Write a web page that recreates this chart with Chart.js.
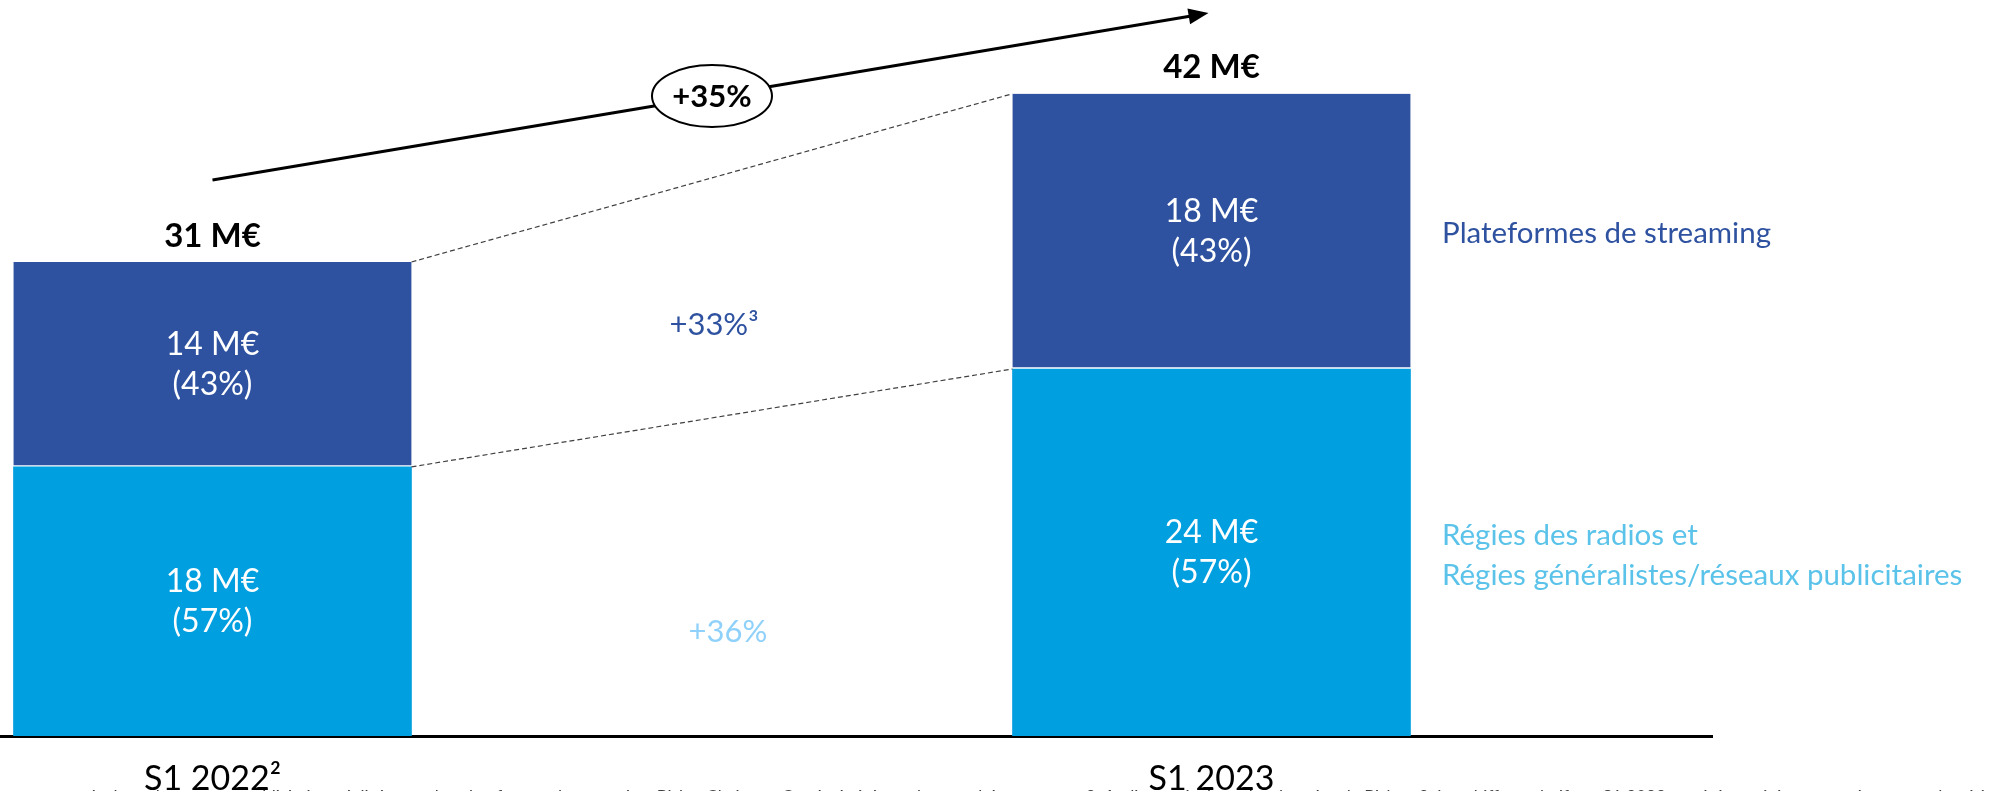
<!DOCTYPE html>
<html>
<head>
<meta charset="utf-8">
<script src="https://cdn.jsdelivr.net/npm/chart.js@4"></script>
<style>
  html, body { margin: 0; padding: 0; background: #fff; }
  #wrap { width: 1996px; height: 791px; position: relative; overflow: hidden; }
</style>
</head>
<body>
<div id="wrap"><canvas id="chart"></canvas></div>
<script>
// categories and values (M€)
const categories = ['S1 2022²', 'S1 2023'];
const radioValues = [17.6, 24.0];
const streamingValues = [13.4, 18.0];

// texts shown on the bars
const radioLabels = ['18 M€', '24 M€'];
const radioShares = ['(57%)', '(57%)'];
const streamingLabels = ['14 M€', '18 M€'];
const streamingShares = ['(43%)', '(43%)'];
const totalLabels = ['31 M€', '42 M€'];

const totalGrowth = '+35%';
const streamingGrowth = '+33%³';
const radioGrowth = '+36%';

const seriesNames = ['Régies des radios et', 'Régies généralistes/réseaux publicitaires'];
const streamingName = 'Plateformes de streaming';

const footnote = '1. Les montants incluent les revenus publicitaires réalisés avec les plateformes de streaming, Bisho, Chaine et Carré générés sur les marchés couverts ; 2. Audiences incluant les données de Bisho ; 3. Les chiffres relatifs au S1 2022 ont été retraités pour tenir compte du périmètre';

const DARK = '#2E52A0';
const LIGHT = '#009FE0';
const FONT = 'Lato, "Open Sans", sans-serif';

function txt(ctx, s, x, y, size, color, weight, align) {
  ctx.font = (weight || 'normal') + ' ' + size + 'px ' + FONT;
  ctx.fillStyle = color;
  ctx.textAlign = align || 'center';
  ctx.textBaseline = 'middle';
  ctx.fillText(s, x, y);
}

const annotations = {
  id: 'annotations',
  afterDatasetsDraw(chart) {
    const ctx = chart.ctx;
    const radio = chart.getDatasetMeta(0).data;
    const stream = chart.getDatasetMeta(1).data;
    ctx.save();

    // labels inside the segments
    radio.forEach((bar, i) => {
      const cy = (bar.y + bar.base) / 2;
      txt(ctx, radioLabels[i], bar.x, cy - 20, 32, '#fff');
      txt(ctx, radioShares[i], bar.x, cy + 20, 32, '#fff');
    });
    stream.forEach((bar, i) => {
      const cy = (bar.y + bar.base) / 2;
      txt(ctx, streamingLabels[i], bar.x, cy - 20, 32, '#fff');
      txt(ctx, streamingShares[i], bar.x, cy + 20, 32, '#fff');
      txt(ctx, totalLabels[i], bar.x, bar.y - 26, 33, '#000', 'bold');
    });

    // dashed connectors between bar corners
    const a = stream[0], b = stream[1];
    const ra = radio[0], rb = radio[1];
    ctx.strokeStyle = '#404040';
    ctx.lineWidth = 1.2;
    ctx.setLineDash([5, 3]);
    ctx.beginPath();
    ctx.moveTo(a.x + a.width / 2, a.y);
    ctx.lineTo(b.x - b.width / 2, b.y);
    ctx.moveTo(ra.x + ra.width / 2, ra.y);
    ctx.lineTo(rb.x - rb.width / 2, rb.y);
    ctx.stroke();
    ctx.setLineDash([]);

    // growth arrow
    const x0 = a.x, y0 = 180, x1 = b.x - 3, y1 = 13;
    const ang = Math.atan2(y1 - y0, x1 - x0);
    ctx.strokeStyle = '#000';
    ctx.lineWidth = 3;
    ctx.beginPath();
    ctx.moveTo(x0, y0);
    ctx.lineTo(x1 - 16 * Math.cos(ang), y1 - 16 * Math.sin(ang));
    ctx.stroke();
    ctx.fillStyle = '#000';
    ctx.beginPath();
    ctx.moveTo(x1, y1);
    ctx.lineTo(x1 - 20 * Math.cos(ang) + 8 * Math.sin(ang), y1 - 20 * Math.sin(ang) - 8 * Math.cos(ang));
    ctx.lineTo(x1 - 20 * Math.cos(ang) - 8 * Math.sin(ang), y1 - 20 * Math.sin(ang) + 8 * Math.cos(ang));
    ctx.closePath();
    ctx.fill();

    // ellipse with total growth
    const mx = (a.x + a.width / 2 + b.x - b.width / 2) / 2;
    ctx.beginPath();
    ctx.ellipse(mx, 96, 60, 31, 0, 0, Math.PI * 2);
    ctx.fillStyle = '#fff';
    ctx.fill();
    ctx.lineWidth = 2;
    ctx.strokeStyle = '#000';
    ctx.stroke();
    txt(ctx, totalGrowth, mx, 97, 31, '#000', 'bold');

    // segment growth
    txt(ctx, streamingGrowth, mx + 2, 325, 31, DARK);
    txt(ctx, radioGrowth, mx + 16, 632, 31, '#8FD1FA');

    // series names right of the chart
    const lx = chart.chartArea.right - 270;
    txt(ctx, streamingName, lx, (b.y + b.base) / 2 + 2, 29.5, DARK, 'normal', 'left');
    const rc = (rb.y + rb.base) / 2;
    txt(ctx, seriesNames[0], lx, rc - 17, 29.5, '#5BC3E9', 'normal', 'left');
    txt(ctx, seriesNames[1], lx, rc + 23, 29.5, '#5BC3E9', 'normal', 'left');

    // category labels under the axis
    const xs = chart.scales.x;
    categories.forEach((c, i) => {
      txt(ctx, c, xs.getPixelForValue(i), 779, 34, '#000');
    });

    // footnote, mostly cut by the bottom edge
    ctx.font = '17px ' + FONT;
    ctx.fillStyle = '#404040';
    ctx.textAlign = 'left';
    ctx.textBaseline = 'alphabetic';
    ctx.fillText(footnote, -30, 803);

    ctx.restore();
  }
};

new Chart(document.getElementById('chart'), {
  type: 'bar',
  data: {
    datasets: [
      {
        label: seriesNames.join(' '),
        data: radioValues.map((v, i) => ({ x: i, y: v })),
        backgroundColor: LIGHT,
        borderWidth: 0,
      },
      {
        label: streamingName,
        data: streamingValues.map((v, i) => ({ x: i, y: v })),
        backgroundColor: DARK,
        borderColor: '#ffffff',
        borderWidth: { top: 0, left: 0, right: 0, bottom: 2 },
        borderSkipped: false,
      },
    ],
  },
  options: {
    responsive: true,
    maintainAspectRatio: false,
    animation: false,
    events: [],
    barThickness: 398,
    layout: { padding: { left: 0, right: 284, top: 2, bottom: 55 } },
    plugins: { legend: { display: false }, tooltip: { enabled: false } },
    scales: {
      x: {
        type: 'linear',
        stacked: true,
        offset: false,
        min: -0.2127,
        max: 1.501,
        grid: { display: false, drawTicks: false, offset: false },
        ticks: { display: false },
        border: { display: true, color: '#000', width: 3 },
      },
      y: {
        stacked: true,
        min: 0,
        max: 48,
        display: false,
      },
    },
  },
  plugins: [annotations],
});
</script>
</body>
</html>
